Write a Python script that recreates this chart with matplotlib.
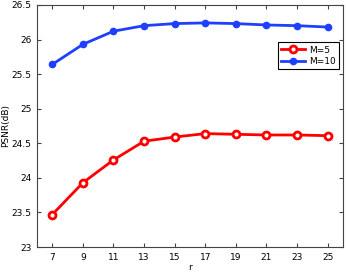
import matplotlib.pyplot as plt

r = [7, 9, 11, 13, 15, 17, 19, 21, 23, 25]
psnr_m5 = [23.47, 23.93, 24.26, 24.53, 24.59, 24.64, 24.63, 24.62, 24.62, 24.61]
psnr_m10 = [25.64, 25.93, 26.12, 26.20, 26.23, 26.24, 26.23, 26.21, 26.20, 26.18]

fig = plt.figure(figsize=(3.46, 2.73), dpi=100)
ax = fig.add_axes([0.107, 0.095, 0.884, 0.887])

ax.plot(r, psnr_m5, color='red', linewidth=2, marker='o', markersize=5,
        markerfacecolor='white', markeredgewidth=2, label='M=5')
ax.plot(r, psnr_m10, color='#1f3fff', linewidth=2, marker='o', markersize=4.5,
        markerfacecolor='#1f3fff', markeredgecolor='#1f3fff', label='M=10')

ax.set_xlim(6, 26)
ax.set_ylim(23, 26.5)
ax.set_xticks(r)
ax.set_yticks([23, 23.5, 24, 24.5, 25, 25.5, 26, 26.5])
ax.set_yticklabels(['23', '23.5', '24', '24.5', '25', '25.5', '26', '26.5'])
ax.tick_params(direction='in', top=True, right=True, labelsize=6.5, length=3,
               color='#444444', pad=4)
for s in ax.spines.values():
    s.set_color('#444444')
    s.set_linewidth(0.8)
ax.set_xlabel('r', fontsize=6.5, labelpad=1)
ax.set_ylabel('PSNR(dB)', fontsize=6.5, labelpad=1)

leg = ax.legend(loc='upper right', bbox_to_anchor=(0.988, 0.845), fontsize=6.5,
                fancybox=False, framealpha=1, edgecolor='black',
                handlelength=2.6, borderpad=0.35, labelspacing=0.25,
                handletextpad=0.5, borderaxespad=0)
leg.get_frame().set_linewidth(0.8)

fig.savefig('out.png', dpi=100)
